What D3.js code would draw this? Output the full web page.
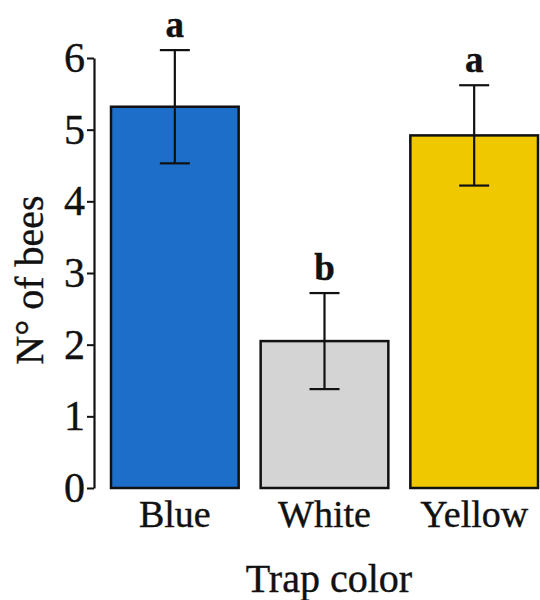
<!DOCTYPE html>
<html>
<head>
<meta charset="utf-8">
<script src="https://cdn.jsdelivr.net/npm/d3@7"></script>
<style>
    body { margin: 0; background: #fff; }
    text { font-family: "Liberation Serif", "Times New Roman", serif; fill: #111; stroke: #111; stroke-width: 0.4px; }
</style>
</head>
<body>
<div id="chart"></div>
<script>
// Data
var trapColors = ["Blue", "White", "Yellow"];
var meanBees = [5.32, 2.05, 4.92];
var seBees = [0.79, 0.67, 0.70];
var groupLetters = ["a", "b", "a"];
var barFills = ["#1d6ec9", "#d4d4d4", "#efc800"];
var yTicks = [0, 1, 2, 3, 4, 5, 6];

var svgWidth = 540;
var svgHeight = 600;

var svg = d3.select("#chart")
    .append("svg")
    .attr("width", svgWidth)
    .attr("height", svgHeight);

var rows = trapColors.map(function (c, i) {
    return { color: c, mean: meanBees[i], se: seBees[i], letter: groupLetters[i], fill: barFills[i] };
});

// Scales
var xScale = d3.scaleBand()
    .domain(trapColors)
    .range([111, 538])
    .paddingInner(0.147)
    .paddingOuter(0);

var yScale = d3.scaleLinear()
    .domain([0, 6])
    .range([488, 58]);

// Bars
svg.selectAll(".bar")
    .data(rows)
    .enter()
    .append("rect")
    .attr("class", "bar")
    .attr("x", d => xScale(d.color))
    .attr("y", d => yScale(d.mean))
    .attr("width", xScale.bandwidth())
    .attr("height", d => yScale(0) - yScale(d.mean))
    .attr("fill", d => d.fill)
    .attr("stroke", "#111")
    .attr("stroke-width", 2.5);

// Error bars
var capHalf = 15;
var errGroup = svg.selectAll(".err")
    .data(rows)
    .enter()
    .append("g")
    .attr("class", "err")
    .attr("stroke", "#111")
    .attr("stroke-width", 2.2);

errGroup.append("line")
    .attr("x1", d => xScale(d.color) + xScale.bandwidth() / 2)
    .attr("x2", d => xScale(d.color) + xScale.bandwidth() / 2)
    .attr("y1", d => yScale(d.mean + d.se))
    .attr("y2", d => yScale(d.mean - d.se));

errGroup.append("line")
    .attr("x1", d => xScale(d.color) + xScale.bandwidth() / 2 - capHalf)
    .attr("x2", d => xScale(d.color) + xScale.bandwidth() / 2 + capHalf)
    .attr("y1", d => yScale(d.mean + d.se))
    .attr("y2", d => yScale(d.mean + d.se));

errGroup.append("line")
    .attr("x1", d => xScale(d.color) + xScale.bandwidth() / 2 - capHalf)
    .attr("x2", d => xScale(d.color) + xScale.bandwidth() / 2 + capHalf)
    .attr("y1", d => yScale(d.mean - d.se))
    .attr("y2", d => yScale(d.mean - d.se));

// Significance letters
svg.selectAll(".letter")
    .data(rows)
    .enter()
    .append("text")
    .attr("class", "letter")
    .attr("x", d => xScale(d.color) + xScale.bandwidth() / 2)
    .attr("y", d => yScale(d.mean + d.se) - 13)
    .attr("text-anchor", "middle")
    .style("font-size", "37px")
    .style("font-weight", "bold")
    .text(d => d.letter);

// Y axis
var leftAxis = d3.axisLeft(yScale)
    .tickValues(yTicks)
    .tickFormat(d3.format("d"))
    .tickSize(7)
    .tickSizeOuter(0)
    .tickPadding(2);

var yAxis = svg.append("g")
    .attr("transform", "translate(94, 0)")
    .call(leftAxis);

yAxis.select(".domain")
    .attr("stroke", "#111")
    .attr("stroke-width", 2.2);
yAxis.selectAll(".tick line")
    .attr("stroke", "#111")
    .attr("stroke-width", 2);
yAxis.selectAll(".tick text")
    .style("font-family", "'Liberation Serif', 'Times New Roman', serif")
    .style("font-size", "42px")
    .attr("fill", "#111");

// Category labels
svg.selectAll(".cat")
    .data(rows)
    .enter()
    .append("text")
    .attr("class", "cat")
    .attr("x", d => xScale(d.color) + xScale.bandwidth() / 2)
    .attr("y", 527)
    .attr("text-anchor", "middle")
    .style("font-size", "38px")
    .text(d => d.color);

// Axis titles
svg.append("text")
    .attr("x", 329)
    .attr("y", 592)
    .attr("text-anchor", "middle")
    .style("font-size", "40px")
    .text("Trap color");

svg.append("text")
    .attr("transform", "translate(43, 280) rotate(-90)")
    .attr("text-anchor", "middle")
    .style("font-size", "40px")
    .text("N° of bees");
</script>
</body>
</html>
